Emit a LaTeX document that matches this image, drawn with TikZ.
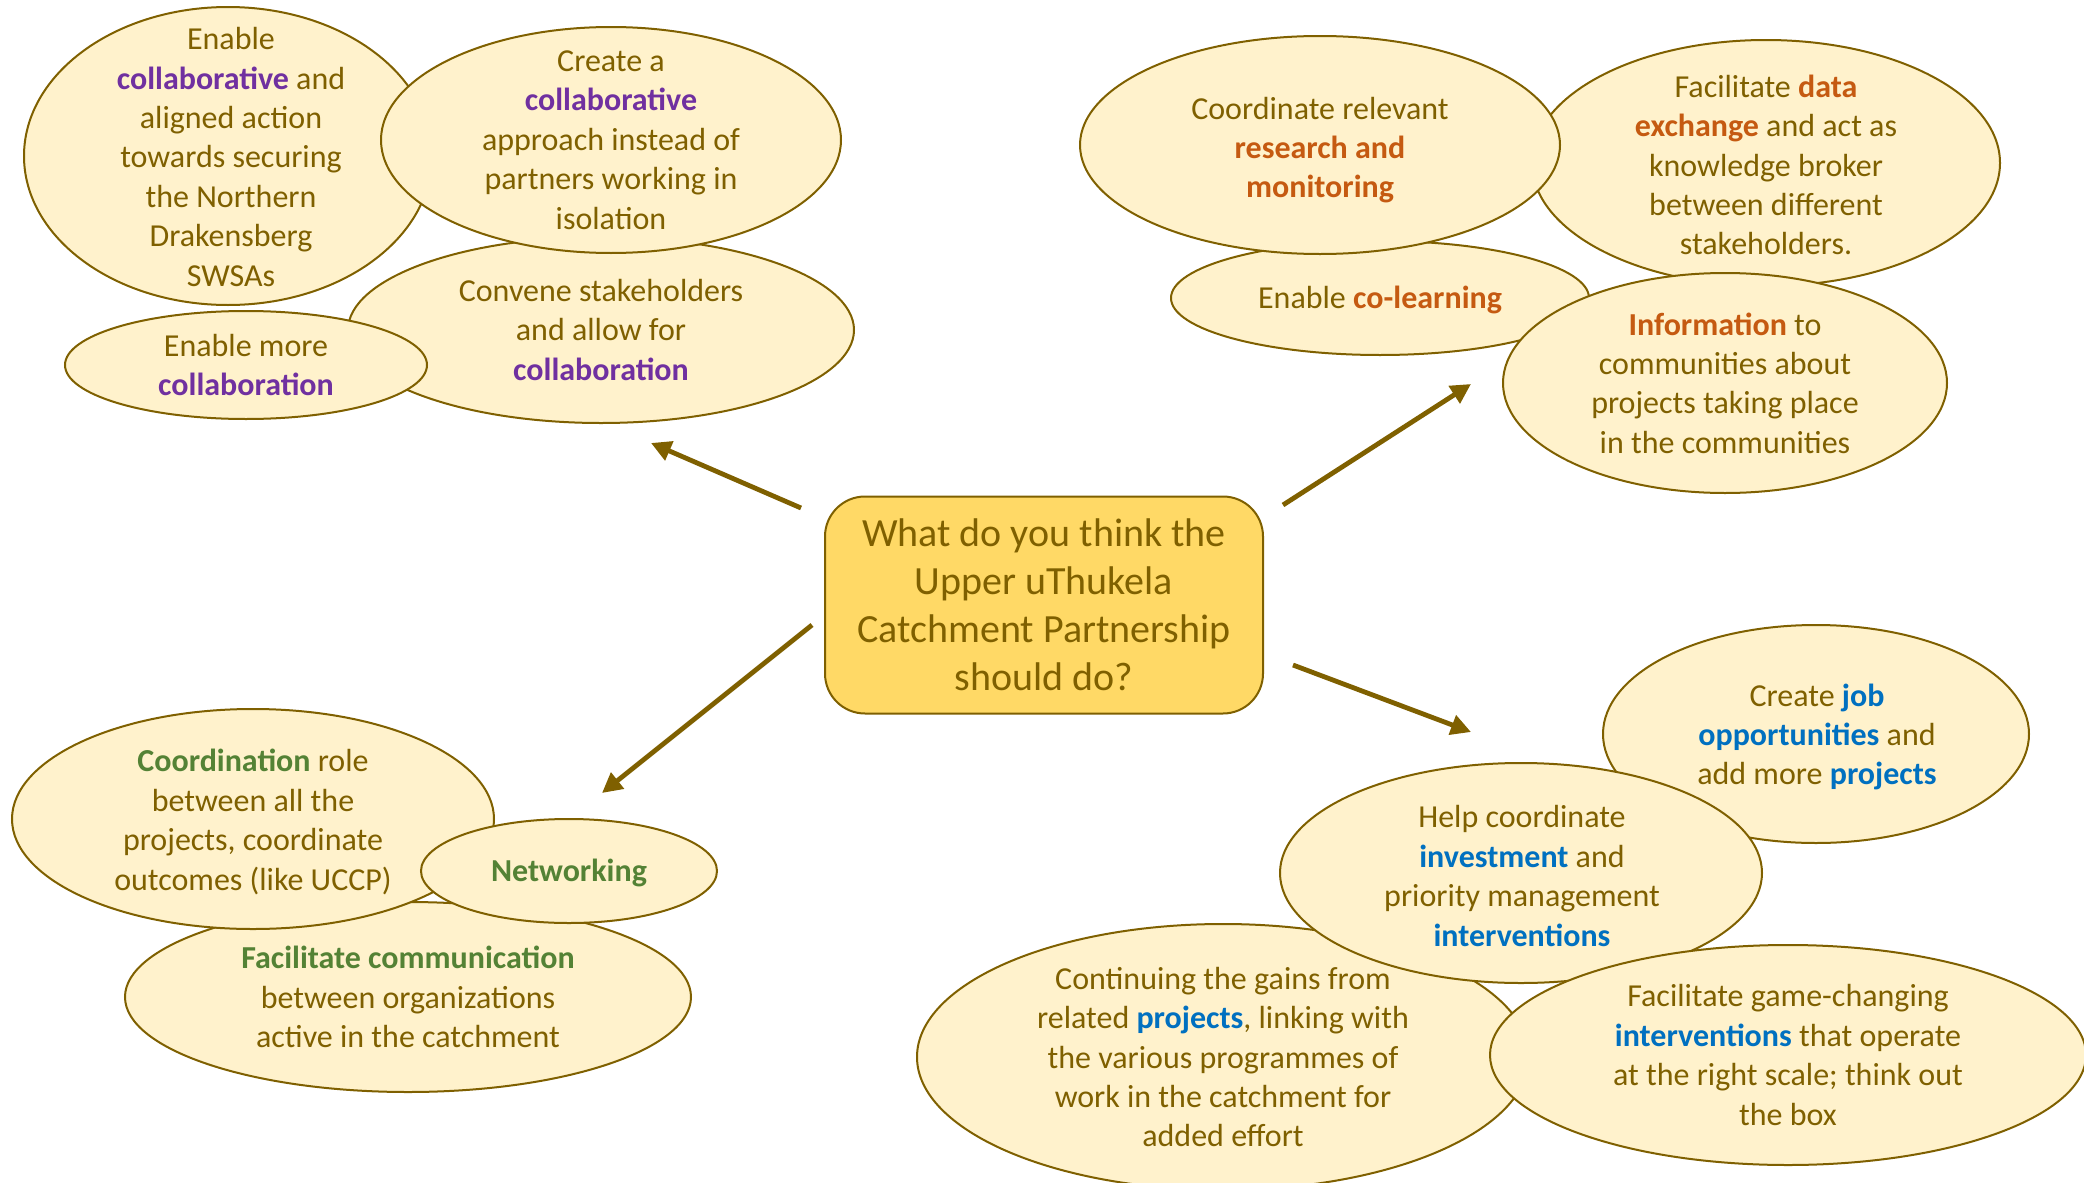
\documentclass[tikz,border=0pt]{standalone}
\usepackage{fontspec}
\setmainfont{Carlito}
\usetikzlibrary{shapes.geometric,arrows.meta}
\definecolor{olive}{HTML}{7F6000}
\definecolor{efill}{HTML}{FFF2CC}
\definecolor{bfill}{HTML}{FFD966}
\definecolor{cpurple}{HTML}{7030A0}
\definecolor{corange}{HTML}{C55A11}
\definecolor{cgreen}{HTML}{548235}
\definecolor{cblue}{HTML}{0070C0}
\newcommand{\kwP}[1]{\textbf{\color{cpurple}#1}}
\newcommand{\kwO}[1]{\textbf{\color{corange}#1}}
\newcommand{\kwG}[1]{\textbf{\color{cgreen}#1}}
\newcommand{\kwB}[1]{\textbf{\color{cblue}#1}}
\tikzset{
  bubble/.style={ellipse, draw=olive, fill=efill, line width=1pt, inner sep=0pt},
  btext/.style={text=olive, align=center, inner sep=0pt, font=\fontsize{16}{19.7}\selectfont},
  qbox/.style={rectangle, rounded corners=20pt, draw=olive, fill=bfill, line width=1pt,
    text=olive, align=center, font=\fontsize{20}{24}\selectfont, minimum width=219pt, minimum height=108.5pt},
  arr/.style={draw=olive, line width=2.4pt, -{Triangle[length=10pt,width=10pt]}}
}
\begin{document}
\begin{tikzpicture}[x=0.5pt,y=-0.5pt]
\useasboundingbox (0,0) rectangle (2084,1183);
% top left
\node[bubble, minimum width=253pt, minimum height=93pt] (e3) at (601,330) {};
\node[btext] (t3) at (e3) {Convene stakeholders\\and allow for\\\kwP{collaboration}};
\node[bubble, minimum width=204pt, minimum height=149pt] (e1) at (228,156) {};
\node[btext] (t1) at (231,157) {Enable\\\kwP{collaborative} and\\aligned action\\towards securing\\the Northern\\Drakensberg\\SWSAs};
\node[bubble, minimum width=230pt, minimum height=113pt] (e2) at (611,140) {};
\node[btext] (t2) at (e2) {Create a\\\kwP{collaborative}\\approach instead of\\partners working in\\isolation};
\node[bubble, minimum width=181pt, minimum height=54pt] (e4) at (246,365) {};
\node[btext] (t4) at (e4) {Enable more\\\kwP{collaboration}};
% top right
\node[bubble, minimum width=234pt, minimum height=123pt] (e6) at (1766,163) {};
\node[btext] (t6) at (1766,165) {Facilitate \kwO{data}\\\kwO{exchange} and act as\\knowledge broker\\between different\\stakeholders.};
\node[bubble, minimum width=209pt, minimum height=57pt] (e7) at (1380,298) {};
\node[btext] (t7) at (1380,300) {Enable \kwO{co-learning}};
\node[bubble, minimum width=240pt, minimum height=109pt] (e5) at (1320,145) {};
\node[btext] (t5) at (1320,150) {Coordinate relevant\\\kwO{research and}\\\kwO{monitoring}};
\node[bubble, minimum width=222pt, minimum height=110pt] (e8) at (1725,383) {};
\node[btext] (t8) at (e8) {\kwO{Information} to\\communities about\\projects taking place\\in the communities};
% bottom left
\node[bubble, minimum width=283pt, minimum height=95pt] (e11) at (408,997) {};
\node[btext] (t11) at (e11) {\kwG{Facilitate communication}\\between organizations\\active in the catchment};
\node[bubble, minimum width=241pt, minimum height=110pt] (e9) at (253,819) {};
\node[btext] (t9) at (253,822) {\kwG{Coordination} role\\between all the\\projects, coordinate\\outcomes (like UCCP)};
\node[bubble, minimum width=148pt, minimum height=52pt] (e10) at (569,871) {};
\node[btext] (t10) at (569,873) {\kwG{Networking}};
% bottom right
\node[bubble, minimum width=213pt, minimum height=109pt] (e12) at (1816,734) {};
\node[btext] (t12) at (1817,737) {Create \kwB{job}\\\kwB{opportunities} and\\add more \kwB{projects}};
\node[bubble, minimum width=306pt, minimum height=133pt] (e14) at (1223,1057) {};
\node[btext] (t14) at (e14) {Continuing the gains from\\related \kwB{projects}, linking with\\the various programmes of\\work in the catchment for\\added effort};
\node[bubble, minimum width=241pt, minimum height=110pt] (e13) at (1521,873) {};
\node[btext] (t13) at (1522,876) {Help coordinate\\\kwB{investment} and\\priority management\\\kwB{interventions}};
\node[bubble, minimum width=298pt, minimum height=110pt] (e15) at (1788,1055) {};
\node[btext] (t15) at (e15) {Facilitate game-changing\\\kwB{interventions} that operate\\at the right scale; think out\\the box};
% centre
\node[qbox] (q) at (1044,605) {What do you think the\\Upper uThukela\\Catchment Partnership\\should do?};
% arrows
\coordinate (s1) at (801,508); \coordinate (d1) at (651,443);
\coordinate (s2) at (1283,505); \coordinate (d2) at (1471,384);
\coordinate (s3) at (812,625); \coordinate (d3) at (602,793);
\coordinate (s4) at (1293,665); \coordinate (d4) at (1471,732);
\draw[arr] (s1) -- (d1);
\draw[arr] (s2) -- (d2);
\draw[arr] (s3) -- (d3);
\draw[arr] (s4) -- (d4);
\end{tikzpicture}
\end{document}
